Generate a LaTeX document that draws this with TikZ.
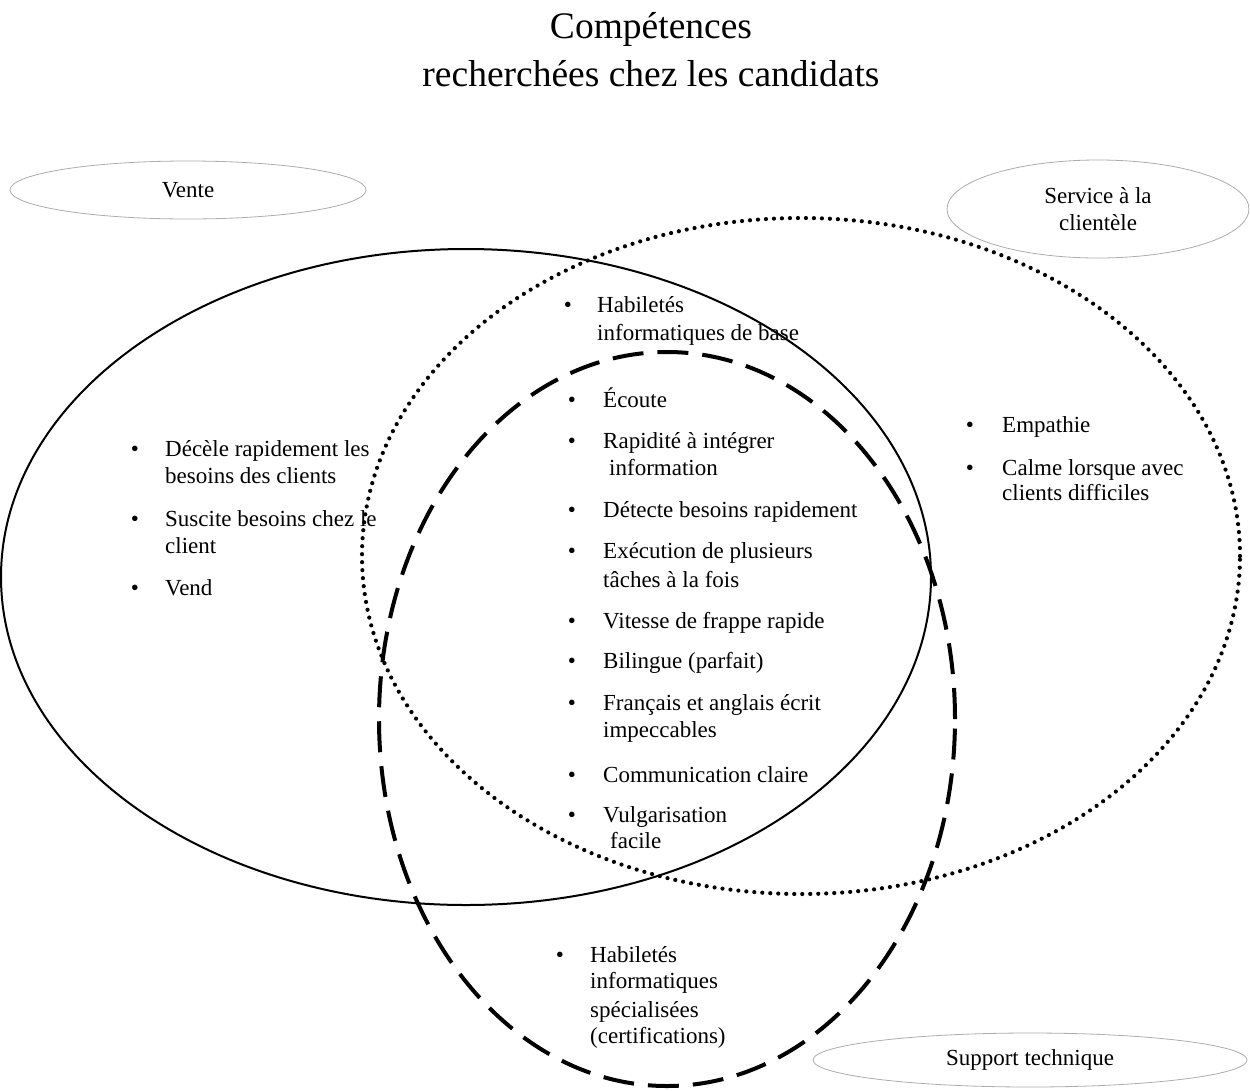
\documentclass[tikz,border=0pt]{standalone}
\usepackage{fontspec}
\setmainfont{Liberation Serif}
\usetikzlibrary{shapes.geometric}
\begin{document}
\begin{tikzpicture}[x=1pt,y=-1pt,
  body/.style={font=\fontsize{23}{27}\selectfont},
  txt/.style={body, inner sep=0pt, anchor=base west},
  puce/.style={body, inner sep=0pt, anchor=base},
  titre/.style={font=\fontsize{37.5}{48}\selectfont, inner sep=0pt, anchor=base},
  etiquette/.style={ellipse, draw=gray!65, line width=0.8pt, inner sep=0pt, align=center, body},
  venn/.style={ellipse, inner sep=0pt},
  trait/.style={venn, draw, line width=2pt},
  pointille/.style={venn, draw, line width=4.2pt, line cap=round, dash pattern=on 0pt off 8pt},
  tirets/.style={venn, draw, line width=4pt, dash pattern=on 31pt off 14pt},
]
\useasboundingbox (0,0) rectangle (1250,1090);

% title
\node[titre] (titre1) at (651,38) {Compétences};
\node[titre] (titre2) at (651,86) {recherchées chez les candidats};

% the three sets
\node[trait, minimum width=930pt, minimum height=656pt] (vente) at (466,577) {};
\node[pointille, minimum width=878pt, minimum height=676pt] (service) at (801,556) {};
\node[tirets, minimum width=576pt, minimum height=734pt] (support) at (667,719) {};

% set names
\node[etiquette, minimum width=356pt, minimum height=58pt] (nomVente) at (188,190) {Vente};
\node[etiquette, minimum width=302pt, minimum height=98pt] (nomService) at (1098,209) {Service à la\\clientèle};
\node[etiquette, minimum width=434pt, minimum height=54pt] (nomSupport) at (1030,1060) {Support technique};

% bullets
\foreach \n/\x/\y in {
  pA/135/456, pB/135/526, pC/135/595,
  pD/568/312,
  pE/572/407, pF/572/448, pG/572/517, pH/572/558, pI/572/628,
  pJ/572/668, pK/572/710, pL/572/782, pM/572/822,
  pN/970/432, pO/970/475,
  pP/560/962}
  \node[puce] (\n) at (\x,\y) {•};

% item texts
\foreach \n/\x/\y/\t in {
  a1/165/456/Décèle rapidement les, a2/165/483/besoins des clients,
  b1/165/526/Suscite besoins chez le, b2/165/553/client,
  c1/165/595/Vend,
  d1/597/312/Habiletés, d2/597/340/informatiques de base,
  e1/603/407/Écoute,
  f1/603/448/Rapidité à intégrer, f2/609/475/information,
  g1/603/517/Détecte besoins rapidement,
  h1/603/558/Exécution de plusieurs, h2/603/587/tâches à la fois,
  i1/603/628/Vitesse de frappe rapide,
  j1/603/668/Bilingue (parfait),
  k1/603/710/Français et anglais écrit, k2/603/737/impeccables,
  l1/603/782/Communication claire,
  m1/603/822/Vulgarisation, m2/610/848/facile,
  n1/1002/432/Empathie,
  o1/1002/475/Calme lorsque avec, o2/1002/500/clients difficiles,
  q1/590/962/Habiletés, q2/590/988/informatiques,
  q3/590/1017/spécialisées, q4/590/1043/(certifications)}
  \node[txt] (\n) at (\x,\y) {\t};
\end{tikzpicture}
\end{document}
